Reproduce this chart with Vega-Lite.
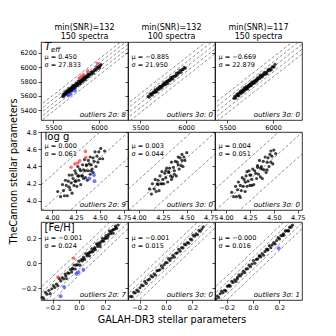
{
"$schema": "https://vega.github.io/schema/vega-lite/v6.json",
"background": "white",
"padding": {"left": 7, "top": 23, "right": 5, "bottom": 5},
"config": {
 "view": {"stroke": "#000", "strokeWidth": 0.8},
 "axis": {"labelFont": "DejaVu Sans", "labelFontSize": 6.5, "labelColor": "#000", "tickColor": "#000", "tickSize": 3, "tickWidth": 0.7, "labelPadding": 1.5, "domain": false, "grid": false, "tickCount": 20, "labelOverlap": false, "labelFlush": false, "titleFont": "DejaVu Sans", "titleFontSize": 9.6, "titleFontWeight": "normal", "titleColor": "#000"},
 "title": {"font": "DejaVu Sans", "fontSize": 8, "fontWeight": "normal", "color": "#000", "offset": 1, "lineHeight": 9},
 "text": {"font": "DejaVu Sans", "color": "#000"}
},
"columns": 3,
"bounds": "flush",
"spacing": {"row": 12, "column": 0},
"concat": [
 {"width": 87, "height": 78, "title": {"text": ["min(SNR)=132", "150 spectra"]},
  "layer": [
   {"data": {"name": "lines"}, "transform": [{"filter": "datum.p == 'T1'"}],
    "mark": {"type": "rule", "clip": true, "strokeDash": [3, 2], "strokeWidth": 0.6, "color": "#444"},
    "encoding": {"x": {"field": "x", "type": "quantitative", "scale": {"domain": [5365, 6317], "nice": false, "zero": false}, "axis": {"values": [5500, 6000], "tickCount": 20, "format": "d", "title": null}},
     "y": {"field": "y", "type": "quantitative", "scale": {"domain": [5265, 6349], "nice": false, "zero": false}, "axis": {"values": [5400, 5600, 5800, 6000, 6200], "tickCount": 20, "format": "d", "title": null}},
     "x2": {"field": "x2"}, "y2": {"field": "y2"}}},
   {"data": {"name": "T1"}, "mark": {"type": "circle"},
    "encoding": {"x": {"field": "x", "type": "quantitative"}, "y": {"field": "y", "type": "quantitative"},
     "color": {"field": "c", "type": "nominal", "scale": {"domain": ["n", "h", "l"], "range": ["#000000", "#ff2a2a", "#2a2aff"]}, "legend": null},
     "size": {"field": "c", "type": "ordinal", "scale": {"domain": ["n", "h", "l"], "range": [10, 15, 15]}, "legend": null},
     "opacity": {"field": "c", "type": "ordinal", "scale": {"domain": ["n", "h", "l"], "range": [0.75, 0.65, 0.65]}, "legend": null}}},
   {"data": {"name": "ann"}, "transform": [{"filter": "datum.p == 'T1'"}],
    "mark": {"type": "text", "align": "left", "baseline": "top", "fontSize": 6.5, "lineBreak": "\n", "lineHeight": 8},
    "encoding": {"x": {"datum": 5403, "type": "quantitative"}, "y": {"datum": 6189, "type": "quantitative"}, "text": {"field": "ms"}}},
   {"data": {"name": "ann"}, "transform": [{"filter": "datum.p == 'T1'"}],
    "mark": {"type": "text", "align": "right", "baseline": "middle", "fontSize": 7, "fontStyle": "italic"},
    "encoding": {"x": {"datum": 6295, "type": "quantitative"}, "y": {"datum": 5330, "type": "quantitative"}, "text": {"field": "out"}}},
   {"data": {"name": "ann"}, "transform": [{"filter": "datum.p == 'T1'"}],
    "mark": {"type": "text", "align": "left", "baseline": "alphabetic", "fontSize": 10.5, "fontStyle": "italic"},
    "encoding": {"x": {"datum": 5403, "type": "quantitative"}, "y": {"datum": 6234, "type": "quantitative"}, "text": {"field": "name"}}},
   {"data": {"name": "ann"}, "transform": [{"filter": "datum.p == 'T1'"}],
    "mark": {"type": "text", "align": "left", "baseline": "alphabetic", "fontSize": 7, "fontStyle": "italic", "dx": 6.5, "dy": 1.5},
    "encoding": {"x": {"datum": 5403, "type": "quantitative"}, "y": {"datum": 6234, "type": "quantitative"}, "text": {"field": "sub"}}}
  ]},
 {"width": 87, "height": 78, "title": {"text": ["min(SNR)=132", "100 spectra"]},
  "layer": [
   {"data": {"name": "lines"}, "transform": [{"filter": "datum.p == 'T2'"}],
    "mark": {"type": "rule", "clip": true, "strokeDash": [3, 2], "strokeWidth": 0.6, "color": "#444"},
    "encoding": {"x": {"field": "x", "type": "quantitative", "scale": {"domain": [5365, 6317], "nice": false, "zero": false}, "axis": {"values": [5500, 6000], "tickCount": 20, "format": "d", "title": null}},
     "y": {"field": "y", "type": "quantitative", "scale": {"domain": [5265, 6349], "nice": false, "zero": false}, "axis": {"values": [5400, 5600, 5800, 6000, 6200], "tickCount": 20, "labels": false, "title": null}},
     "x2": {"field": "x2"}, "y2": {"field": "y2"}}},
   {"data": {"name": "T2"}, "mark": {"type": "circle"},
    "encoding": {"x": {"field": "x", "type": "quantitative"}, "y": {"field": "y", "type": "quantitative"},
     "color": {"field": "c", "type": "nominal", "scale": {"domain": ["n", "h", "l"], "range": ["#000000", "#ff2a2a", "#2a2aff"]}, "legend": null},
     "size": {"field": "c", "type": "ordinal", "scale": {"domain": ["n", "h", "l"], "range": [10, 15, 15]}, "legend": null},
     "opacity": {"field": "c", "type": "ordinal", "scale": {"domain": ["n", "h", "l"], "range": [0.75, 0.65, 0.65]}, "legend": null}}},
   {"data": {"name": "ann"}, "transform": [{"filter": "datum.p == 'T2'"}],
    "mark": {"type": "text", "align": "left", "baseline": "top", "fontSize": 6.5, "lineBreak": "\n", "lineHeight": 8},
    "encoding": {"x": {"datum": 5403, "type": "quantitative"}, "y": {"datum": 6189, "type": "quantitative"}, "text": {"field": "ms"}}},
   {"data": {"name": "ann"}, "transform": [{"filter": "datum.p == 'T2'"}],
    "mark": {"type": "text", "align": "right", "baseline": "middle", "fontSize": 7, "fontStyle": "italic"},
    "encoding": {"x": {"datum": 6295, "type": "quantitative"}, "y": {"datum": 5330, "type": "quantitative"}, "text": {"field": "out"}}}
  ]},
 {"width": 87, "height": 78, "title": {"text": ["min(SNR)=117", "150 spectra"]},
  "layer": [
   {"data": {"name": "lines"}, "transform": [{"filter": "datum.p == 'T3'"}],
    "mark": {"type": "rule", "clip": true, "strokeDash": [3, 2], "strokeWidth": 0.6, "color": "#444"},
    "encoding": {"x": {"field": "x", "type": "quantitative", "scale": {"domain": [5365, 6317], "nice": false, "zero": false}, "axis": {"values": [5500, 6000], "tickCount": 20, "format": "d", "title": null}},
     "y": {"field": "y", "type": "quantitative", "scale": {"domain": [5265, 6349], "nice": false, "zero": false}, "axis": {"values": [5400, 5600, 5800, 6000, 6200], "tickCount": 20, "labels": false, "title": null}},
     "x2": {"field": "x2"}, "y2": {"field": "y2"}}},
   {"data": {"name": "T3"}, "mark": {"type": "circle"},
    "encoding": {"x": {"field": "x", "type": "quantitative"}, "y": {"field": "y", "type": "quantitative"},
     "color": {"field": "c", "type": "nominal", "scale": {"domain": ["n", "h", "l"], "range": ["#000000", "#ff2a2a", "#2a2aff"]}, "legend": null},
     "size": {"field": "c", "type": "ordinal", "scale": {"domain": ["n", "h", "l"], "range": [10, 15, 15]}, "legend": null},
     "opacity": {"field": "c", "type": "ordinal", "scale": {"domain": ["n", "h", "l"], "range": [0.75, 0.65, 0.65]}, "legend": null}}},
   {"data": {"name": "ann"}, "transform": [{"filter": "datum.p == 'T3'"}],
    "mark": {"type": "text", "align": "left", "baseline": "top", "fontSize": 6.5, "lineBreak": "\n", "lineHeight": 8},
    "encoding": {"x": {"datum": 5403, "type": "quantitative"}, "y": {"datum": 6189, "type": "quantitative"}, "text": {"field": "ms"}}},
   {"data": {"name": "ann"}, "transform": [{"filter": "datum.p == 'T3'"}],
    "mark": {"type": "text", "align": "right", "baseline": "middle", "fontSize": 7, "fontStyle": "italic"},
    "encoding": {"x": {"datum": 6295, "type": "quantitative"}, "y": {"datum": 5330, "type": "quantitative"}, "text": {"field": "out"}}}
  ]},
 {"width": 87, "height": 78,
  "layer": [
   {"data": {"name": "lines"}, "transform": [{"filter": "datum.p == 'G1'"}],
    "mark": {"type": "rule", "clip": true, "strokeDash": [3, 2], "strokeWidth": 0.6, "color": "#444"},
    "encoding": {"x": {"field": "x", "type": "quantitative", "scale": {"domain": [3.885, 4.795], "nice": false, "zero": false}, "axis": {"values": [4.0, 4.25, 4.5, 4.75], "tickCount": 20, "format": ".2f", "title": null}},
     "y": {"field": "y", "type": "quantitative", "scale": {"domain": [3.895, 4.8], "nice": false, "zero": false}, "axis": {"values": [4.0, 4.2, 4.4, 4.6, 4.8], "tickCount": 20, "format": ".1f", "title": "TheCannon stellar parameters", "titlePadding": 8}},
     "x2": {"field": "x2"}, "y2": {"field": "y2"}}},
   {"data": {"name": "G1"}, "mark": {"type": "circle"},
    "encoding": {"x": {"field": "x", "type": "quantitative"}, "y": {"field": "y", "type": "quantitative"},
     "color": {"field": "c", "type": "nominal", "scale": {"domain": ["n", "h", "l"], "range": ["#000000", "#ff2a2a", "#2a2aff"]}, "legend": null},
     "size": {"field": "c", "type": "ordinal", "scale": {"domain": ["n", "h", "l"], "range": [6, 14, 14]}, "legend": null},
     "opacity": {"field": "c", "type": "ordinal", "scale": {"domain": ["n", "h", "l"], "range": [0.75, 0.65, 0.65]}, "legend": null}}},
   {"data": {"name": "ann"}, "transform": [{"filter": "datum.p == 'G1'"}],
    "mark": {"type": "text", "align": "left", "baseline": "top", "fontSize": 6.5, "lineBreak": "\n", "lineHeight": 8},
    "encoding": {"x": {"datum": 3.922, "type": "quantitative"}, "y": {"datum": 4.668, "type": "quantitative"}, "text": {"field": "ms"}}},
   {"data": {"name": "ann"}, "transform": [{"filter": "datum.p == 'G1'"}],
    "mark": {"type": "text", "align": "right", "baseline": "middle", "fontSize": 7, "fontStyle": "italic"},
    "encoding": {"x": {"datum": 4.774, "type": "quantitative"}, "y": {"datum": 3.95, "type": "quantitative"}, "text": {"field": "out"}}},
   {"data": {"name": "ann"}, "transform": [{"filter": "datum.p == 'G1'"}],
    "mark": {"type": "text", "align": "left", "baseline": "alphabetic", "fontSize": 10},
    "encoding": {"x": {"datum": 3.922, "type": "quantitative"}, "y": {"datum": 4.712, "type": "quantitative"}, "text": {"field": "name"}}}
  ]},
 {"width": 87, "height": 78,
  "layer": [
   {"data": {"name": "lines"}, "transform": [{"filter": "datum.p == 'G2'"}],
    "mark": {"type": "rule", "clip": true, "strokeDash": [3, 2], "strokeWidth": 0.6, "color": "#444"},
    "encoding": {"x": {"field": "x", "type": "quantitative", "scale": {"domain": [3.885, 4.795], "nice": false, "zero": false}, "axis": {"values": [4.0, 4.25, 4.5, 4.75], "tickCount": 20, "format": ".2f", "title": null}},
     "y": {"field": "y", "type": "quantitative", "scale": {"domain": [3.895, 4.8], "nice": false, "zero": false}, "axis": {"values": [4.0, 4.2, 4.4, 4.6, 4.8], "tickCount": 20, "labels": false, "title": null}},
     "x2": {"field": "x2"}, "y2": {"field": "y2"}}},
   {"data": {"name": "G2"}, "mark": {"type": "circle"},
    "encoding": {"x": {"field": "x", "type": "quantitative"}, "y": {"field": "y", "type": "quantitative"},
     "color": {"field": "c", "type": "nominal", "scale": {"domain": ["n", "h", "l"], "range": ["#000000", "#ff2a2a", "#2a2aff"]}, "legend": null},
     "size": {"field": "c", "type": "ordinal", "scale": {"domain": ["n", "h", "l"], "range": [6, 14, 14]}, "legend": null},
     "opacity": {"field": "c", "type": "ordinal", "scale": {"domain": ["n", "h", "l"], "range": [0.75, 0.65, 0.65]}, "legend": null}}},
   {"data": {"name": "ann"}, "transform": [{"filter": "datum.p == 'G2'"}],
    "mark": {"type": "text", "align": "left", "baseline": "top", "fontSize": 6.5, "lineBreak": "\n", "lineHeight": 8},
    "encoding": {"x": {"datum": 3.922, "type": "quantitative"}, "y": {"datum": 4.668, "type": "quantitative"}, "text": {"field": "ms"}}},
   {"data": {"name": "ann"}, "transform": [{"filter": "datum.p == 'G2'"}],
    "mark": {"type": "text", "align": "right", "baseline": "middle", "fontSize": 7, "fontStyle": "italic"},
    "encoding": {"x": {"datum": 4.774, "type": "quantitative"}, "y": {"datum": 3.95, "type": "quantitative"}, "text": {"field": "out"}}}
  ]},
 {"width": 87, "height": 78,
  "layer": [
   {"data": {"name": "lines"}, "transform": [{"filter": "datum.p == 'G3'"}],
    "mark": {"type": "rule", "clip": true, "strokeDash": [3, 2], "strokeWidth": 0.6, "color": "#444"},
    "encoding": {"x": {"field": "x", "type": "quantitative", "scale": {"domain": [3.885, 4.795], "nice": false, "zero": false}, "axis": {"values": [4.0, 4.25, 4.5, 4.75], "tickCount": 20, "format": ".2f", "title": null}},
     "y": {"field": "y", "type": "quantitative", "scale": {"domain": [3.895, 4.8], "nice": false, "zero": false}, "axis": {"values": [4.0, 4.2, 4.4, 4.6, 4.8], "tickCount": 20, "labels": false, "title": null}},
     "x2": {"field": "x2"}, "y2": {"field": "y2"}}},
   {"data": {"name": "G3"}, "mark": {"type": "circle"},
    "encoding": {"x": {"field": "x", "type": "quantitative"}, "y": {"field": "y", "type": "quantitative"},
     "color": {"field": "c", "type": "nominal", "scale": {"domain": ["n", "h", "l"], "range": ["#000000", "#ff2a2a", "#2a2aff"]}, "legend": null},
     "size": {"field": "c", "type": "ordinal", "scale": {"domain": ["n", "h", "l"], "range": [6, 14, 14]}, "legend": null},
     "opacity": {"field": "c", "type": "ordinal", "scale": {"domain": ["n", "h", "l"], "range": [0.75, 0.65, 0.65]}, "legend": null}}},
   {"data": {"name": "ann"}, "transform": [{"filter": "datum.p == 'G3'"}],
    "mark": {"type": "text", "align": "left", "baseline": "top", "fontSize": 6.5, "lineBreak": "\n", "lineHeight": 8},
    "encoding": {"x": {"datum": 3.922, "type": "quantitative"}, "y": {"datum": 4.668, "type": "quantitative"}, "text": {"field": "ms"}}},
   {"data": {"name": "ann"}, "transform": [{"filter": "datum.p == 'G3'"}],
    "mark": {"type": "text", "align": "right", "baseline": "middle", "fontSize": 7, "fontStyle": "italic"},
    "encoding": {"x": {"datum": 4.774, "type": "quantitative"}, "y": {"datum": 3.95, "type": "quantitative"}, "text": {"field": "out"}}}
  ]},
 {"width": 87, "height": 78,
  "layer": [
   {"data": {"name": "lines"}, "transform": [{"filter": "datum.p == 'F1'"}],
    "mark": {"type": "rule", "clip": true, "strokeDash": [3, 2], "strokeWidth": 0.6, "color": "#444"},
    "encoding": {"x": {"field": "x", "type": "quantitative", "scale": {"domain": [-0.289, 0.372], "nice": false, "zero": false}, "axis": {"values": [-0.2, 0, 0.2], "tickCount": 20, "format": ".1f", "title": null}},
     "y": {"field": "y", "type": "quantitative", "scale": {"domain": [-0.294, 0.33], "nice": false, "zero": false}, "axis": {"values": [-0.2, 0, 0.2], "tickCount": 20, "format": ".1f", "title": null}},
     "x2": {"field": "x2"}, "y2": {"field": "y2"}}},
   {"data": {"name": "F1"}, "mark": {"type": "circle"},
    "encoding": {"x": {"field": "x", "type": "quantitative"}, "y": {"field": "y", "type": "quantitative"},
     "color": {"field": "c", "type": "nominal", "scale": {"domain": ["n", "h", "l"], "range": ["#000000", "#ff2a2a", "#2a2aff"]}, "legend": null},
     "size": {"field": "c", "type": "ordinal", "scale": {"domain": ["n", "h", "l"], "range": [6, 14, 14]}, "legend": null},
     "opacity": {"field": "c", "type": "ordinal", "scale": {"domain": ["n", "h", "l"], "range": [0.75, 0.65, 0.65]}, "legend": null}}},
   {"data": {"name": "ann"}, "transform": [{"filter": "datum.p == 'F1'"}],
    "mark": {"type": "text", "align": "left", "baseline": "top", "fontSize": 6.5, "lineBreak": "\n", "lineHeight": 8},
    "encoding": {"x": {"datum": -0.262, "type": "quantitative"}, "y": {"datum": 0.226, "type": "quantitative"}, "text": {"field": "ms"}}},
   {"data": {"name": "ann"}, "transform": [{"filter": "datum.p == 'F1'"}],
    "mark": {"type": "text", "align": "right", "baseline": "middle", "fontSize": 7, "fontStyle": "italic"},
    "encoding": {"x": {"datum": 0.357, "type": "quantitative"}, "y": {"datum": -0.256, "type": "quantitative"}, "text": {"field": "out"}}},
   {"data": {"name": "ann"}, "transform": [{"filter": "datum.p == 'F1'"}],
    "mark": {"type": "text", "align": "left", "baseline": "alphabetic", "fontSize": 10},
    "encoding": {"x": {"datum": -0.262, "type": "quantitative"}, "y": {"datum": 0.262, "type": "quantitative"}, "text": {"field": "name"}}}
  ]},
 {"width": 87, "height": 78,
  "layer": [
   {"data": {"name": "lines"}, "transform": [{"filter": "datum.p == 'F2'"}],
    "mark": {"type": "rule", "clip": true, "strokeDash": [3, 2], "strokeWidth": 0.6, "color": "#444"},
    "encoding": {"x": {"field": "x", "type": "quantitative", "scale": {"domain": [-0.289, 0.372], "nice": false, "zero": false}, "axis": {"values": [-0.2, 0, 0.2], "tickCount": 20, "format": ".1f", "title": "GALAH-DR3 stellar parameters", "titlePadding": 3}},
     "y": {"field": "y", "type": "quantitative", "scale": {"domain": [-0.294, 0.33], "nice": false, "zero": false}, "axis": {"values": [-0.2, 0, 0.2], "tickCount": 20, "labels": false, "title": null}},
     "x2": {"field": "x2"}, "y2": {"field": "y2"}}},
   {"data": {"name": "F2"}, "mark": {"type": "circle"},
    "encoding": {"x": {"field": "x", "type": "quantitative"}, "y": {"field": "y", "type": "quantitative"},
     "color": {"field": "c", "type": "nominal", "scale": {"domain": ["n", "h", "l"], "range": ["#000000", "#ff2a2a", "#2a2aff"]}, "legend": null},
     "size": {"field": "c", "type": "ordinal", "scale": {"domain": ["n", "h", "l"], "range": [6, 14, 14]}, "legend": null},
     "opacity": {"field": "c", "type": "ordinal", "scale": {"domain": ["n", "h", "l"], "range": [0.75, 0.65, 0.65]}, "legend": null}}},
   {"data": {"name": "ann"}, "transform": [{"filter": "datum.p == 'F2'"}],
    "mark": {"type": "text", "align": "left", "baseline": "top", "fontSize": 6.5, "lineBreak": "\n", "lineHeight": 8},
    "encoding": {"x": {"datum": -0.262, "type": "quantitative"}, "y": {"datum": 0.226, "type": "quantitative"}, "text": {"field": "ms"}}},
   {"data": {"name": "ann"}, "transform": [{"filter": "datum.p == 'F2'"}],
    "mark": {"type": "text", "align": "right", "baseline": "middle", "fontSize": 7, "fontStyle": "italic"},
    "encoding": {"x": {"datum": 0.357, "type": "quantitative"}, "y": {"datum": -0.256, "type": "quantitative"}, "text": {"field": "out"}}}
  ]},
 {"width": 87, "height": 78,
  "layer": [
   {"data": {"name": "lines"}, "transform": [{"filter": "datum.p == 'F3'"}],
    "mark": {"type": "rule", "clip": true, "strokeDash": [3, 2], "strokeWidth": 0.6, "color": "#444"},
    "encoding": {"x": {"field": "x", "type": "quantitative", "scale": {"domain": [-0.289, 0.372], "nice": false, "zero": false}, "axis": {"values": [-0.2, 0, 0.2], "tickCount": 20, "format": ".1f", "title": null}},
     "y": {"field": "y", "type": "quantitative", "scale": {"domain": [-0.294, 0.33], "nice": false, "zero": false}, "axis": {"values": [-0.2, 0, 0.2], "tickCount": 20, "labels": false, "title": null}},
     "x2": {"field": "x2"}, "y2": {"field": "y2"}}},
   {"data": {"name": "F3"}, "mark": {"type": "circle"},
    "encoding": {"x": {"field": "x", "type": "quantitative"}, "y": {"field": "y", "type": "quantitative"},
     "color": {"field": "c", "type": "nominal", "scale": {"domain": ["n", "h", "l"], "range": ["#000000", "#ff2a2a", "#2a2aff"]}, "legend": null},
     "size": {"field": "c", "type": "ordinal", "scale": {"domain": ["n", "h", "l"], "range": [6, 14, 14]}, "legend": null},
     "opacity": {"field": "c", "type": "ordinal", "scale": {"domain": ["n", "h", "l"], "range": [0.75, 0.65, 0.65]}, "legend": null}}},
   {"data": {"name": "ann"}, "transform": [{"filter": "datum.p == 'F3'"}],
    "mark": {"type": "text", "align": "left", "baseline": "top", "fontSize": 6.5, "lineBreak": "\n", "lineHeight": 8},
    "encoding": {"x": {"datum": -0.262, "type": "quantitative"}, "y": {"datum": 0.226, "type": "quantitative"}, "text": {"field": "ms"}}},
   {"data": {"name": "ann"}, "transform": [{"filter": "datum.p == 'F3'"}],
    "mark": {"type": "text", "align": "right", "baseline": "middle", "fontSize": 7, "fontStyle": "italic"},
    "encoding": {"x": {"datum": 0.357, "type": "quantitative"}, "y": {"datum": -0.256, "type": "quantitative"}, "text": {"field": "out"}}}
  ]}
],
"datasets": {
 "ann": [
  {"p": "T1", "name": "T", "sub": "eff", "ms": "μ = 0.450\nσ = 27.833", "out": "outliers 2σ: 8"},
  {"p": "T2", "ms": "μ = −0.885\nσ = 21.950", "out": "outliers 3σ: 0"},
  {"p": "T3", "ms": "μ = −0.669\nσ = 22.879", "out": "outliers 3σ: 0"},
  {"p": "G1", "name": "log g", "ms": "μ = 0.000\nσ = 0.061", "out": "outliers 2σ: 9"},
  {"p": "G2", "ms": "μ = 0.003\nσ = 0.044", "out": "outliers 3σ: 0"},
  {"p": "G3", "ms": "μ = 0.004\nσ = 0.051", "out": "outliers 3σ: 0"},
  {"p": "F1", "name": "[Fe/H]", "ms": "μ = −0.001\nσ = 0.024", "out": "outliers 2σ: 7"},
  {"p": "F2", "ms": "μ = −0.001\nσ = 0.015", "out": "outliers 3σ: 0"},
  {"p": "F3", "ms": "μ = −0.000\nσ = 0.016", "out": "outliers 3σ: 1"}
 ],
 "lines": [
  {"p": "T1", "x": 5000, "y": 4888, "x2": 6700, "y2": 6588},
  {"p": "T1", "x": 5000, "y": 4944, "x2": 6700, "y2": 6644},
  {"p": "T1", "x": 5000, "y": 5000, "x2": 6700, "y2": 6700},
  {"p": "T1", "x": 5000, "y": 5056, "x2": 6700, "y2": 6756},
  {"p": "T1", "x": 5000, "y": 5112, "x2": 6700, "y2": 6812},
  {"p": "T2", "x": 5000, "y": 4868, "x2": 6700, "y2": 6568},
  {"p": "T2", "x": 5000, "y": 4934, "x2": 6700, "y2": 6634},
  {"p": "T2", "x": 5000, "y": 5000, "x2": 6700, "y2": 6700},
  {"p": "T2", "x": 5000, "y": 5066, "x2": 6700, "y2": 6766},
  {"p": "T2", "x": 5000, "y": 5132, "x2": 6700, "y2": 6832},
  {"p": "T3", "x": 5000, "y": 4863, "x2": 6700, "y2": 6563},
  {"p": "T3", "x": 5000, "y": 4931, "x2": 6700, "y2": 6631},
  {"p": "T3", "x": 5000, "y": 5000, "x2": 6700, "y2": 6700},
  {"p": "T3", "x": 5000, "y": 5069, "x2": 6700, "y2": 6769},
  {"p": "T3", "x": 5000, "y": 5137, "x2": 6700, "y2": 6837},
  {"p": "G1", "x": 3.5, "y": 3.2, "x2": 5.2, "y2": 4.9},
  {"p": "G1", "x": 3.5, "y": 3.5, "x2": 5.2, "y2": 5.2},
  {"p": "G1", "x": 3.5, "y": 3.8, "x2": 5.2, "y2": 5.5},
  {"p": "G2", "x": 3.5, "y": 3.25, "x2": 5.2, "y2": 4.95},
  {"p": "G2", "x": 3.5, "y": 3.5, "x2": 5.2, "y2": 5.2},
  {"p": "G2", "x": 3.5, "y": 3.75, "x2": 5.2, "y2": 5.45},
  {"p": "G3", "x": 3.5, "y": 3.25, "x2": 5.2, "y2": 4.95},
  {"p": "G3", "x": 3.5, "y": 3.5, "x2": 5.2, "y2": 5.2},
  {"p": "G3", "x": 3.5, "y": 3.75, "x2": 5.2, "y2": 5.45},
  {"p": "F1", "x": -0.5, "y": -0.596, "x2": 0.6, "y2": 0.504},
  {"p": "F1", "x": -0.5, "y": -0.548, "x2": 0.6, "y2": 0.552},
  {"p": "F1", "x": -0.5, "y": -0.5, "x2": 0.6, "y2": 0.6},
  {"p": "F1", "x": -0.5, "y": -0.452, "x2": 0.6, "y2": 0.648},
  {"p": "F1", "x": -0.5, "y": -0.404, "x2": 0.6, "y2": 0.696},
  {"p": "F2", "x": -0.5, "y": -0.59, "x2": 0.6, "y2": 0.51},
  {"p": "F2", "x": -0.5, "y": -0.545, "x2": 0.6, "y2": 0.555},
  {"p": "F2", "x": -0.5, "y": -0.5, "x2": 0.6, "y2": 0.6},
  {"p": "F2", "x": -0.5, "y": -0.455, "x2": 0.6, "y2": 0.645},
  {"p": "F2", "x": -0.5, "y": -0.41, "x2": 0.6, "y2": 0.69},
  {"p": "F3", "x": -0.5, "y": -0.596, "x2": 0.6, "y2": 0.504},
  {"p": "F3", "x": -0.5, "y": -0.548, "x2": 0.6, "y2": 0.552},
  {"p": "F3", "x": -0.5, "y": -0.5, "x2": 0.6, "y2": 0.6},
  {"p": "F3", "x": -0.5, "y": -0.452, "x2": 0.6, "y2": 0.648},
  {"p": "F3", "x": -0.5, "y": -0.404, "x2": 0.6, "y2": 0.696}
 ],
 "T1": [
  {"x":5600,"y":5592,"c":"n"},{"x":5608,"y":5620,"c":"n"},{"x":5615,"y":5595,"c":"n"},{"x":5621,"y":5626,"c":"n"},{"x":5627,"y":5645,"c":"n"},{"x":5632,"y":5618,"c":"n"},{"x":5637,"y":5639,"c":"n"},{"x":5642,"y":5667,"c":"n"},{"x":5646,"y":5641,"c":"n"},{"x":5650,"y":5628,"c":"n"},
  {"x":5654,"y":5664,"c":"n"},{"x":5658,"y":5657,"c":"n"},{"x":5662,"y":5678,"c":"n"},{"x":5666,"y":5654,"c":"n"},{"x":5670,"y":5698,"c":"n"},{"x":5674,"y":5667,"c":"n"},{"x":5678,"y":5682,"c":"n"},{"x":5681,"y":5656,"c":"n"},{"x":5685,"y":5698,"c":"n"},{"x":5689,"y":5689,"c":"n"},
  {"x":5692,"y":5676,"c":"n"},{"x":5696,"y":5717,"c":"n"},{"x":5700,"y":5707,"c":"n"},{"x":5703,"y":5693,"c":"n"},{"x":5707,"y":5677,"c":"n"},{"x":5711,"y":5726,"c":"n"},{"x":5714,"y":5717,"c":"n"},{"x":5718,"y":5744,"c":"n"},{"x":5722,"y":5704,"c":"n"},{"x":5725,"y":5734,"c":"n"},
  {"x":5729,"y":5725,"c":"n"},{"x":5733,"y":5752,"c":"n"},{"x":5737,"y":5714,"c":"n"},{"x":5740,"y":5751,"c":"n"},{"x":5744,"y":5745,"c":"n"},{"x":5748,"y":5735,"c":"n"},{"x":5752,"y":5776,"c":"n"},{"x":5756,"y":5750,"c":"n"},{"x":5760,"y":5774,"c":"n"},{"x":5764,"y":5744,"c":"n"},
  {"x":5768,"y":5774,"c":"n"},{"x":5772,"y":5770,"c":"n"},{"x":5776,"y":5807,"c":"n"},{"x":5780,"y":5765,"c":"n"},{"x":5784,"y":5792,"c":"n"},{"x":5788,"y":5779,"c":"n"},{"x":5793,"y":5810,"c":"n"},{"x":5797,"y":5770,"c":"n"},{"x":5801,"y":5804,"c":"n"},{"x":5806,"y":5818,"c":"n"},
  {"x":5810,"y":5799,"c":"n"},{"x":5815,"y":5837,"c":"n"},{"x":5819,"y":5816,"c":"n"},{"x":5824,"y":5805,"c":"n"},{"x":5829,"y":5838,"c":"n"},{"x":5834,"y":5861,"c":"n"},{"x":5839,"y":5831,"c":"n"},{"x":5844,"y":5858,"c":"n"},{"x":5850,"y":5826,"c":"n"},{"x":5856,"y":5860,"c":"n"},
  {"x":5862,"y":5880,"c":"n"},{"x":5868,"y":5856,"c":"n"},{"x":5874,"y":5874,"c":"n"},{"x":5881,"y":5904,"c":"n"},{"x":5888,"y":5871,"c":"n"},{"x":5895,"y":5902,"c":"n"},{"x":5903,"y":5897,"c":"n"},{"x":5911,"y":5931,"c":"n"},{"x":5919,"y":5905,"c":"n"},{"x":5928,"y":5939,"c":"n"},
  {"x":5937,"y":5916,"c":"n"},{"x":5946,"y":5948,"c":"n"},{"x":5956,"y":5971,"c":"n"},{"x":5966,"y":5957,"c":"n"},{"x":5976,"y":6001,"c":"n"},{"x":5986,"y":5982,"c":"n"},{"x":5996,"y":6006,"c":"n"},{"x":6005,"y":5989,"c":"n"},{"x":6014,"y":6020,"c":"n"},{"x":6022,"y":6035,"c":"n"},
  {"x":5783,"y":5850,"c":"h"},{"x":5806,"y":5872,"c":"h"},{"x":5828,"y":5893,"c":"h"},{"x":5875,"y":5945,"c":"h"},{"x":5983,"y":6050,"c":"h"},
  {"x":5668,"y":5605,"c":"l"},{"x":5690,"y":5625,"c":"l"},{"x":5736,"y":5672,"c":"l"}
 ],
 "T2": [
  {"x":5585,"y":5595,"c":"n"},{"x":5596,"y":5581,"c":"n"},{"x":5606,"y":5628,"c":"n"},{"x":5615,"y":5611,"c":"n"},{"x":5623,"y":5631,"c":"n"},{"x":5631,"y":5612,"c":"n"},{"x":5639,"y":5653,"c":"n"},{"x":5646,"y":5647,"c":"n"},{"x":5653,"y":5644,"c":"n"},{"x":5660,"y":5686,"c":"n"},
  {"x":5667,"y":5655,"c":"n"},{"x":5674,"y":5679,"c":"n"},{"x":5681,"y":5657,"c":"n"},{"x":5688,"y":5705,"c":"n"},{"x":5695,"y":5695,"c":"n"},{"x":5702,"y":5695,"c":"n"},{"x":5709,"y":5729,"c":"n"},{"x":5716,"y":5700,"c":"n"},{"x":5723,"y":5732,"c":"n"},{"x":5730,"y":5733,"c":"n"},
  {"x":5737,"y":5717,"c":"n"},{"x":5744,"y":5757,"c":"n"},{"x":5751,"y":5748,"c":"n"},{"x":5758,"y":5782,"c":"n"},{"x":5765,"y":5754,"c":"n"},{"x":5772,"y":5778,"c":"n"},{"x":5779,"y":5762,"c":"n"},{"x":5786,"y":5804,"c":"n"},{"x":5793,"y":5792,"c":"n"},{"x":5800,"y":5774,"c":"n"},
  {"x":5808,"y":5819,"c":"n"},{"x":5816,"y":5820,"c":"n"},{"x":5824,"y":5811,"c":"n"},{"x":5832,"y":5853,"c":"n"},{"x":5840,"y":5834,"c":"n"},{"x":5848,"y":5863,"c":"n"},{"x":5857,"y":5835,"c":"n"},{"x":5866,"y":5873,"c":"n"},{"x":5875,"y":5877,"c":"n"},{"x":5884,"y":5874,"c":"n"},
  {"x":5893,"y":5912,"c":"n"},{"x":5903,"y":5889,"c":"n"},{"x":5913,"y":5925,"c":"n"},{"x":5923,"y":5918,"c":"n"},{"x":5934,"y":5957,"c":"n"},{"x":5945,"y":5927,"c":"n"},{"x":5956,"y":5964,"c":"n"},{"x":5968,"y":5966,"c":"n"},{"x":5980,"y":5996,"c":"n"},{"x":5992,"y":5984,"c":"n"}
 ],
 "T3": [
  {"x":5572,"y":5566,"c":"n"},{"x":5581,"y":5595,"c":"n"},{"x":5590,"y":5569,"c":"n"},{"x":5598,"y":5601,"c":"n"},{"x":5606,"y":5625,"c":"n"},{"x":5613,"y":5602,"c":"n"},{"x":5620,"y":5628,"c":"n"},{"x":5627,"y":5602,"c":"n"},{"x":5633,"y":5645,"c":"n"},{"x":5639,"y":5637,"c":"n"},
  {"x":5645,"y":5668,"c":"n"},{"x":5651,"y":5636,"c":"n"},{"x":5657,"y":5662,"c":"n"},{"x":5663,"y":5655,"c":"n"},{"x":5668,"y":5685,"c":"n"},{"x":5674,"y":5655,"c":"n"},{"x":5680,"y":5681,"c":"n"},{"x":5685,"y":5711,"c":"n"},{"x":5691,"y":5678,"c":"n"},{"x":5696,"y":5705,"c":"n"},
  {"x":5702,"y":5698,"c":"n"},{"x":5707,"y":5728,"c":"n"},{"x":5713,"y":5696,"c":"n"},{"x":5718,"y":5724,"c":"n"},{"x":5724,"y":5701,"c":"n"},{"x":5729,"y":5742,"c":"n"},{"x":5735,"y":5735,"c":"n"},{"x":5740,"y":5730,"c":"n"},{"x":5746,"y":5764,"c":"n"},{"x":5751,"y":5744,"c":"n"},
  {"x":5757,"y":5768,"c":"n"},{"x":5762,"y":5742,"c":"n"},{"x":5768,"y":5792,"c":"n"},{"x":5774,"y":5771,"c":"n"},{"x":5779,"y":5786,"c":"n"},{"x":5785,"y":5771,"c":"n"},{"x":5791,"y":5807,"c":"n"},{"x":5797,"y":5796,"c":"n"},{"x":5803,"y":5781,"c":"n"},{"x":5809,"y":5819,"c":"n"},
  {"x":5815,"y":5819,"c":"n"},{"x":5821,"y":5805,"c":"n"},{"x":5827,"y":5847,"c":"n"},{"x":5833,"y":5824,"c":"n"},{"x":5840,"y":5842,"c":"n"},{"x":5847,"y":5862,"c":"n"},{"x":5854,"y":5842,"c":"n"},{"x":5861,"y":5888,"c":"n"},{"x":5868,"y":5863,"c":"n"},{"x":5875,"y":5883,"c":"n"},
  {"x":5883,"y":5865,"c":"n"},{"x":5891,"y":5903,"c":"n"},{"x":5899,"y":5893,"c":"n"},{"x":5907,"y":5929,"c":"n"},{"x":5915,"y":5901,"c":"n"},{"x":5924,"y":5927,"c":"n"},{"x":5933,"y":5909,"c":"n"},{"x":5942,"y":5951,"c":"n"},{"x":5951,"y":5968,"c":"n"},{"x":5961,"y":5950,"c":"n"},
  {"x":5971,"y":5977,"c":"n"},{"x":5981,"y":5962,"c":"n"},{"x":5991,"y":6005,"c":"n"},{"x":6001,"y":6001,"c":"n"},{"x":6011,"y":6003,"c":"n"},{"x":6021,"y":6039,"c":"n"}
 ],
 "G1": [
  {"x":4.06,"y":4.11,"c":"n"},{"x":4.09,"y":4.05,"c":"n"},{"x":4.11,"y":4.19,"c":"n"},{"x":4.12,"y":4.12,"c":"n"},{"x":4.13,"y":4.06,"c":"n"},{"x":4.14,"y":4.24,"c":"n"},{"x":4.15,"y":4.18,"c":"n"},{"x":4.16,"y":4.06,"c":"n"},{"x":4.17,"y":4.23,"c":"n"},{"x":4.18,"y":4.16,"c":"n"},
  {"x":4.18,"y":4.30,"c":"n"},{"x":4.19,"y":4.13,"c":"n"},{"x":4.20,"y":4.21,"c":"n"},{"x":4.21,"y":4.30,"c":"n"},{"x":4.21,"y":4.09,"c":"n"},{"x":4.22,"y":4.26,"c":"n"},{"x":4.23,"y":4.18,"c":"n"},{"x":4.24,"y":4.35,"c":"n"},{"x":4.24,"y":4.23,"c":"n"},{"x":4.25,"y":4.32,"c":"n"},
  {"x":4.26,"y":4.17,"c":"n"},{"x":4.27,"y":4.29,"c":"n"},{"x":4.27,"y":4.40,"c":"n"},{"x":4.28,"y":4.24,"c":"n"},{"x":4.29,"y":4.37,"c":"n"},{"x":4.30,"y":4.19,"c":"n"},{"x":4.30,"y":4.35,"c":"n"},{"x":4.31,"y":4.29,"c":"n"},{"x":4.32,"y":4.42,"c":"n"},{"x":4.33,"y":4.26,"c":"n"},
  {"x":4.33,"y":4.36,"c":"n"},{"x":4.34,"y":4.48,"c":"n"},{"x":4.35,"y":4.27,"c":"n"},{"x":4.35,"y":4.35,"c":"n"},{"x":4.36,"y":4.42,"c":"n"},{"x":4.37,"y":4.24,"c":"n"},{"x":4.38,"y":4.47,"c":"n"},{"x":4.38,"y":4.35,"c":"n"},{"x":4.39,"y":4.43,"c":"n"},{"x":4.40,"y":4.31,"c":"n"},
  {"x":4.40,"y":4.51,"c":"n"},{"x":4.41,"y":4.42,"c":"n"},{"x":4.42,"y":4.37,"c":"n"},{"x":4.43,"y":4.50,"c":"n"},{"x":4.43,"y":4.33,"c":"n"},{"x":4.44,"y":4.46,"c":"n"},{"x":4.45,"y":4.57,"c":"n"},{"x":4.46,"y":4.40,"c":"n"},{"x":4.47,"y":4.52,"c":"n"},{"x":4.48,"y":4.45,"c":"n"},
  {"x":4.49,"y":4.57,"c":"n"},{"x":4.50,"y":4.49,"c":"n"},{"x":4.51,"y":4.61,"c":"n"},{"x":4.53,"y":4.49,"c":"n"},{"x":4.55,"y":4.58,"c":"n"},{"x":4.28,"y":4.29,"c":"n"},{"x":4.32,"y":4.29,"c":"n"},{"x":4.36,"y":4.41,"c":"n"},{"x":4.25,"y":4.23,"c":"n"},{"x":4.41,"y":4.35,"c":"n"},
  {"x":4.35,"y":4.575,"c":"h"},{"x":4.29,"y":4.465,"c":"h"},{"x":4.27,"y":4.44,"c":"h"},{"x":4.20,"y":4.39,"c":"h"},{"x":4.355,"y":4.505,"c":"h"},{"x":4.24,"y":4.43,"c":"h"},
  {"x":4.44,"y":4.30,"c":"l"},{"x":4.39,"y":4.26,"c":"l"},{"x":4.445,"y":4.23,"c":"l"}
 ],
 "G2": [
  {"x":4.11,"y":4.14,"c":"n"},{"x":4.13,"y":4.08,"c":"n"},{"x":4.14,"y":4.20,"c":"n"},{"x":4.16,"y":4.14,"c":"n"},{"x":4.17,"y":4.25,"c":"n"},{"x":4.18,"y":4.11,"c":"n"},{"x":4.19,"y":4.20,"c":"n"},{"x":4.20,"y":4.24,"c":"n"},{"x":4.21,"y":4.12,"c":"n"},{"x":4.22,"y":4.29,"c":"n"},
  {"x":4.23,"y":4.20,"c":"n"},{"x":4.24,"y":4.34,"c":"n"},{"x":4.25,"y":4.25,"c":"n"},{"x":4.26,"y":4.20,"c":"n"},{"x":4.27,"y":4.32,"c":"n"},{"x":4.28,"y":4.27,"c":"n"},{"x":4.29,"y":4.38,"c":"n"},{"x":4.30,"y":4.22,"c":"n"},{"x":4.31,"y":4.33,"c":"n"},{"x":4.32,"y":4.38,"c":"n"},
  {"x":4.33,"y":4.29,"c":"n"},{"x":4.34,"y":4.45,"c":"n"},{"x":4.35,"y":4.28,"c":"n"},{"x":4.36,"y":4.39,"c":"n"},{"x":4.37,"y":4.35,"c":"n"},{"x":4.38,"y":4.46,"c":"n"},{"x":4.39,"y":4.29,"c":"n"},{"x":4.40,"y":4.45,"c":"n"},{"x":4.41,"y":4.42,"c":"n"},{"x":4.42,"y":4.37,"c":"n"},
  {"x":4.43,"y":4.50,"c":"n"},{"x":4.44,"y":4.41,"c":"n"},{"x":4.45,"y":4.54,"c":"n"},{"x":4.46,"y":4.40,"c":"n"},{"x":4.47,"y":4.51,"c":"n"},{"x":4.48,"y":4.47,"c":"n"},{"x":4.50,"y":4.56,"c":"n"},{"x":4.24,"y":4.20,"c":"n"},{"x":4.31,"y":4.34,"c":"n"},{"x":4.37,"y":4.31,"c":"n"},
  {"x":4.41,"y":4.51,"c":"n"},{"x":4.45,"y":4.47,"c":"n"},{"x":4.20,"y":4.19,"c":"n"},{"x":4.28,"y":4.35,"c":"n"},{"x":4.34,"y":4.25,"c":"n"}
 ],
 "G3": [
  {"x":4.06,"y":4.10,"c":"n"},{"x":4.08,"y":4.05,"c":"n"},{"x":4.10,"y":4.17,"c":"n"},{"x":4.11,"y":4.05,"c":"n"},{"x":4.12,"y":4.13,"c":"n"},{"x":4.13,"y":4.22,"c":"n"},{"x":4.14,"y":4.06,"c":"n"},{"x":4.15,"y":4.18,"c":"n"},{"x":4.16,"y":4.12,"c":"n"},{"x":4.17,"y":4.27,"c":"n"},
  {"x":4.18,"y":4.17,"c":"n"},{"x":4.19,"y":4.25,"c":"n"},{"x":4.20,"y":4.11,"c":"n"},{"x":4.20,"y":4.22,"c":"n"},{"x":4.21,"y":4.29,"c":"n"},{"x":4.22,"y":4.17,"c":"n"},{"x":4.23,"y":4.23,"c":"n"},{"x":4.24,"y":4.35,"c":"n"},{"x":4.25,"y":4.18,"c":"n"},{"x":4.26,"y":4.30,"c":"n"},
  {"x":4.27,"y":4.25,"c":"n"},{"x":4.28,"y":4.37,"c":"n"},{"x":4.29,"y":4.19,"c":"n"},{"x":4.30,"y":4.35,"c":"n"},{"x":4.31,"y":4.32,"c":"n"},{"x":4.32,"y":4.26,"c":"n"},{"x":4.33,"y":4.41,"c":"n"},{"x":4.34,"y":4.31,"c":"n"},{"x":4.35,"y":4.47,"c":"n"},{"x":4.36,"y":4.28,"c":"n"},
  {"x":4.37,"y":4.40,"c":"n"},{"x":4.38,"y":4.37,"c":"n"},{"x":4.39,"y":4.46,"c":"n"},{"x":4.40,"y":4.36,"c":"n"},{"x":4.41,"y":4.51,"c":"n"},{"x":4.42,"y":4.33,"c":"n"},{"x":4.43,"y":4.45,"c":"n"},{"x":4.44,"y":4.50,"c":"n"},{"x":4.45,"y":4.40,"c":"n"},{"x":4.46,"y":4.54,"c":"n"},
  {"x":4.47,"y":4.45,"c":"n"},{"x":4.48,"y":4.52,"c":"n"},{"x":4.49,"y":4.43,"c":"n"},{"x":4.50,"y":4.59,"c":"n"},{"x":4.52,"y":4.55,"c":"n"},{"x":4.15,"y":4.04,"c":"n"},{"x":4.22,"y":4.34,"c":"n"},{"x":4.27,"y":4.18,"c":"n"},{"x":4.33,"y":4.39,"c":"n"},{"x":4.38,"y":4.26,"c":"n"},
  {"x":4.43,"y":4.36,"c":"n"},{"x":4.47,"y":4.58,"c":"n"},{"x":4.25,"y":4.30,"c":"n"},{"x":4.36,"y":4.38,"c":"n"}
 ],
 "F1": [
  {"x":-0.280,"y":-0.272,"c":"n"},{"x":-0.268,"y":-0.283,"c":"n"},{"x":-0.255,"y":-0.233,"c":"n"},{"x":-0.243,"y":-0.248,"c":"n"},{"x":-0.230,"y":-0.218,"c":"n"},{"x":-0.219,"y":-0.243,"c":"n"},{"x":-0.207,"y":-0.204,"c":"n"},{"x":-0.195,"y":-0.178,"c":"n"},{"x":-0.184,"y":-0.194,"c":"n"},{"x":-0.172,"y":-0.166,"c":"n"},
  {"x":-0.161,"y":-0.180,"c":"n"},{"x":-0.150,"y":-0.123,"c":"n"},{"x":-0.139,"y":-0.141,"c":"n"},{"x":-0.128,"y":-0.114,"c":"n"},{"x":-0.117,"y":-0.125,"c":"n"},{"x":-0.106,"y":-0.086,"c":"n"},{"x":-0.096,"y":-0.122,"c":"n"},{"x":-0.086,"y":-0.077,"c":"n"},{"x":-0.076,"y":-0.080,"c":"n"},{"x":-0.066,"y":-0.050,"c":"n"},
  {"x":-0.056,"y":-0.069,"c":"n"},{"x":-0.047,"y":-0.046,"c":"n"},{"x":-0.038,"y":-0.014,"c":"n"},{"x":-0.029,"y":-0.046,"c":"n"},{"x":-0.020,"y":-0.013,"c":"n"},{"x":-0.011,"y":-0.012,"c":"n"},{"x":-0.002,"y":0.017,"c":"n"},{"x":0.007,"y":-0.015,"c":"n"},{"x":0.016,"y":0.027,"c":"n"},{"x":0.025,"y":0.019,"c":"n"},
  {"x":0.034,"y":0.049,"c":"n"},{"x":0.043,"y":0.031,"c":"n"},{"x":0.052,"y":0.077,"c":"n"},{"x":0.061,"y":0.058,"c":"n"},{"x":0.070,"y":0.080,"c":"n"},{"x":0.079,"y":0.059,"c":"n"},{"x":0.088,"y":0.092,"c":"n"},{"x":0.097,"y":0.115,"c":"n"},{"x":0.106,"y":0.097,"c":"n"},{"x":0.115,"y":0.117,"c":"n"},
  {"x":0.124,"y":0.108,"c":"n"},{"x":0.133,"y":0.156,"c":"n"},{"x":0.142,"y":0.135,"c":"n"},{"x":0.151,"y":0.164,"c":"n"},{"x":0.160,"y":0.135,"c":"n"},{"x":0.169,"y":0.174,"c":"n"},{"x":0.178,"y":0.199,"c":"n"},{"x":0.187,"y":0.176,"c":"n"},{"x":0.196,"y":0.196,"c":"n"},{"x":0.205,"y":0.222,"c":"n"},
  {"x":0.214,"y":0.200,"c":"n"},{"x":0.223,"y":0.231,"c":"n"},{"x":0.232,"y":0.258,"c":"n"},{"x":0.241,"y":0.236,"c":"n"},{"x":0.250,"y":0.262,"c":"n"},{"x":0.259,"y":0.241,"c":"n"},{"x":0.268,"y":0.271,"c":"n"},{"x":0.277,"y":0.297,"c":"n"},{"x":0.286,"y":0.278,"c":"n"},{"x":0.296,"y":0.306,"c":"n"},
  {"x":0.030,"y":0.035,"c":"n"},{"x":0.065,"y":0.070,"c":"n"},{"x":0.100,"y":0.090,"c":"n"},{"x":0.140,"y":0.150,"c":"n"},{"x":0.180,"y":0.180,"c":"n"},{"x":0.220,"y":0.215,"c":"n"},{"x":0.260,"y":0.270,"c":"n"},{"x":-0.050,"y":-0.040,"c":"n"},{"x":0.120,"y":0.125,"c":"n"},{"x":0.200,"y":0.205,"c":"n"},
  {"x":0.240,"y":0.250,"c":"n"},{"x":0.080,"y":0.085,"c":"n"},{"x":-0.100,"y":-0.100,"c":"n"},{"x":0.280,"y":0.285,"c":"n"},{"x":0.160,"y":0.155,"c":"n"},
  {"x":-0.040,"y":0.040,"c":"h"},{"x":-0.160,"y":-0.110,"c":"h"},
  {"x":-0.005,"y":-0.072,"c":"l"},{"x":0.033,"y":-0.051,"c":"l"},{"x":-0.114,"y":-0.190,"c":"l"},{"x":-0.140,"y":-0.264,"c":"l"},{"x":-0.020,"y":-0.085,"c":"l"}
 ],
 "F2": [
  {"x":-0.270,"y":-0.265,"c":"n"},{"x":-0.258,"y":-0.267,"c":"n"},{"x":-0.246,"y":-0.232,"c":"n"},{"x":-0.234,"y":-0.237,"c":"n"},{"x":-0.222,"y":-0.214,"c":"n"},{"x":-0.210,"y":-0.225,"c":"n"},{"x":-0.198,"y":-0.196,"c":"n"},{"x":-0.186,"y":-0.175,"c":"n"},{"x":-0.174,"y":-0.180,"c":"n"},{"x":-0.162,"y":-0.145,"c":"n"},
  {"x":-0.150,"y":-0.161,"c":"n"},{"x":-0.138,"y":-0.134,"c":"n"},{"x":-0.126,"y":-0.127,"c":"n"},{"x":-0.114,"y":-0.101,"c":"n"},{"x":-0.102,"y":-0.110,"c":"n"},{"x":-0.091,"y":-0.084,"c":"n"},{"x":-0.080,"y":-0.096,"c":"n"},{"x":-0.069,"y":-0.059,"c":"n"},{"x":-0.058,"y":-0.058,"c":"n"},{"x":-0.047,"y":-0.052,"c":"n"},
  {"x":-0.036,"y":-0.021,"c":"n"},{"x":-0.025,"y":-0.037,"c":"n"},{"x":-0.014,"y":-0.011,"c":"n"},{"x":-0.003,"y":0.006,"c":"n"},{"x":0.008,"y":0.004,"c":"n"},{"x":0.019,"y":0.037,"c":"n"},{"x":0.030,"y":0.023,"c":"n"},{"x":0.041,"y":0.042,"c":"n"},{"x":0.052,"y":0.064,"c":"n"},{"x":0.063,"y":0.049,"c":"n"},
  {"x":0.074,"y":0.080,"c":"n"},{"x":0.085,"y":0.083,"c":"n"},{"x":0.096,"y":0.112,"c":"n"},{"x":0.107,"y":0.097,"c":"n"},{"x":0.118,"y":0.126,"c":"n"},{"x":0.129,"y":0.123,"c":"n"},{"x":0.140,"y":0.153,"c":"n"},{"x":0.151,"y":0.148,"c":"n"},{"x":0.162,"y":0.166,"c":"n"},{"x":0.173,"y":0.160,"c":"n"},
  {"x":0.184,"y":0.194,"c":"n"},{"x":0.195,"y":0.187,"c":"n"},{"x":0.206,"y":0.225,"c":"n"},{"x":0.217,"y":0.216,"c":"n"},{"x":0.228,"y":0.235,"c":"n"},{"x":0.239,"y":0.228,"c":"n"},{"x":0.250,"y":0.264,"c":"n"},{"x":0.261,"y":0.256,"c":"n"},{"x":0.272,"y":0.274,"c":"n"},{"x":0.283,"y":0.292,"c":"n"}
 ],
 "F3": [
  {"x":-0.282,"y":-0.286,"c":"n"},{"x":-0.272,"y":-0.262,"c":"n"},{"x":-0.261,"y":-0.274,"c":"n"},{"x":-0.250,"y":-0.244,"c":"n"},{"x":-0.239,"y":-0.223,"c":"n"},{"x":-0.228,"y":-0.236,"c":"n"},{"x":-0.217,"y":-0.216,"c":"n"},{"x":-0.206,"y":-0.221,"c":"n"},{"x":-0.195,"y":-0.183,"c":"n"},{"x":-0.184,"y":-0.181,"c":"n"},
  {"x":-0.173,"y":-0.183,"c":"n"},{"x":-0.162,"y":-0.144,"c":"n"},{"x":-0.151,"y":-0.153,"c":"n"},{"x":-0.140,"y":-0.132,"c":"n"},{"x":-0.129,"y":-0.146,"c":"n"},{"x":-0.118,"y":-0.113,"c":"n"},{"x":-0.107,"y":-0.093,"c":"n"},{"x":-0.096,"y":-0.102,"c":"n"},{"x":-0.085,"y":-0.085,"c":"n"},{"x":-0.074,"y":-0.063,"c":"n"},
  {"x":-0.063,"y":-0.075,"c":"n"},{"x":-0.052,"y":-0.045,"c":"n"},{"x":-0.041,"y":-0.044,"c":"n"},{"x":-0.030,"y":-0.015,"c":"n"},{"x":-0.019,"y":-0.028,"c":"n"},{"x":-0.008,"y":-0.006,"c":"n"},{"x":0.003,"y":0.022,"c":"n"},{"x":0.014,"y":0.000,"c":"n"},{"x":0.025,"y":0.031,"c":"n"},{"x":0.036,"y":0.035,"c":"n"},
  {"x":0.047,"y":0.060,"c":"n"},{"x":0.058,"y":0.051,"c":"n"},{"x":0.069,"y":0.078,"c":"n"},{"x":0.080,"y":0.064,"c":"n"},{"x":0.091,"y":0.095,"c":"n"},{"x":0.102,"y":0.114,"c":"n"},{"x":0.113,"y":0.108,"c":"n"},{"x":0.124,"y":0.141,"c":"n"},{"x":0.135,"y":0.124,"c":"n"},{"x":0.146,"y":0.147,"c":"n"},
  {"x":0.157,"y":0.165,"c":"n"},{"x":0.168,"y":0.155,"c":"n"},{"x":0.179,"y":0.182,"c":"n"},{"x":0.190,"y":0.205,"c":"n"},{"x":0.201,"y":0.195,"c":"n"},{"x":0.212,"y":0.222,"c":"n"},{"x":0.223,"y":0.221,"c":"n"},{"x":0.234,"y":0.225,"c":"n"},{"x":0.245,"y":0.259,"c":"n"},{"x":0.256,"y":0.261,"c":"n"},
  {"x":0.267,"y":0.259,"c":"n"},{"x":0.278,"y":0.289,"c":"n"},{"x":0.289,"y":0.289,"c":"n"},{"x":0.298,"y":0.305,"c":"n"},{"x":-0.180,"y":-0.176,"c":"n"},{"x":-0.120,"y":-0.126,"c":"n"},{"x":0.050,"y":0.059,"c":"n"},{"x":0.110,"y":0.107,"c":"n"},{"x":0.230,"y":0.236,"c":"n"},{"x":0.270,"y":0.260,"c":"n"},
  {"x":0.195,"y":0.120,"c":"l"}
 ]
}
}
